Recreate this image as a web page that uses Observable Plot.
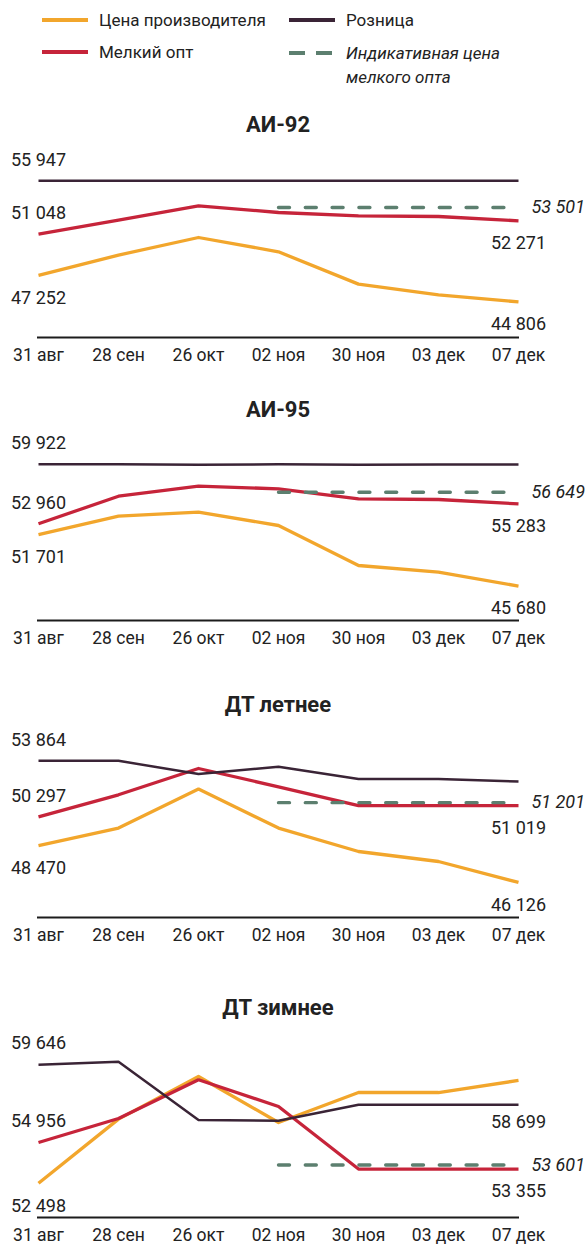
<!DOCTYPE html>
<html>
<head>
<meta charset="utf-8">
<script src="https://cdn.jsdelivr.net/npm/d3@7"></script>
<script src="https://cdn.jsdelivr.net/npm/@observablehq/plot@0.6"></script>
<style>
  body { margin: 0; background: #fff; }
  #chart { position: relative; width: 586px; height: 1245px; font-family: Roboto, "Noto Sans", sans-serif; color: #222; }
  .abs { position: absolute; }
  .legend-text { font-size: 17px; line-height: 24px; white-space: nowrap; }
  .title { font-size: 22px; font-weight: 700; text-align: center; width: 300px; line-height: 26px; }
</style>
</head>
<body>
<div id="chart"></div>
<script>
// Dates along the x axis
const dates = ["31 авг", "28 сен", "26 окт", "02 ноя", "30 ноя", "03 дек", "07 дек"];
// The indicative small-wholesale price applies from this date onwards
const indicativeDates = ["02 ноя", "30 ноя", "03 дек", "07 дек"];

// АИ-92, руб./т
const ai92Producer  = [47252, 49116, 50735, 49420, 46448, 45464, 44806];
const ai92Retail    = [55947, 55947, 55947, 55947, 55947, 55947, 55947];
const ai92Wholesale = [51048, 52336, 53652, 53035, 52732, 52667, 52271];
const ai92Indicative = 53501;

// АИ-95
const ai95Producer  = [51701, 53849, 54317, 52761, 48081, 47297, 45680];
const ai95Retail    = [59922, 59922, 59860, 59922, 59880, 59890, 59900];
const ai95Wholesale = [52960, 56189, 57359, 57055, 55885, 55803, 55283];
const ai95Indicative = 56649;

// ДТ летнее
const dtSummerProducer  = [48470, 49584, 52064, 49584, 48096, 47460, 46126];
const dtSummerRetail    = [53864, 53864, 53018, 53482, 52700, 52700, 52547];
const dtSummerWholesale = [50297, 51702, 53374, 52210, 51019, 51019, 51019];
const dtSummerIndicative = 51201;

// ДТ зимнее
const dtWinterProducer  = [52498, 56367, 58936, 56162, 57971, 57971, 58699];
const dtWinterRetail    = [59646, 59822, 56307, 56265, 57229, 57229, 57229];
const dtWinterWholesale = [54956, 56403, 58737, 57127, 53355, 53355, 53355];
const dtWinterIndicative = 53601;

// Y-axis extents of each panel
const ai92Domain     = [41535, 59935];
const ai95Domain     = [41646, 65046];
const dtSummerDomain = [43898, 56618];
const dtWinterDomain = [50434, 62494];

const titles = ["АИ-92", "АИ-95", "ДТ летнее", "ДТ зимнее"];

const legendLabels = {
  producer: "Цена производителя",
  retail: "Розница",
  wholesale: "Мелкий опт",
  indicative: ["Индикативная цена", "мелкого опта"]
};

const colors = {
  producer: "#F2A62C",
  retail: "#3A2436",
  wholesale: "#C6243A",
  indicative: "#5C7F6F",
  text: "#222222",
  axis: "#1c1c1c"
};

const panels = [
  { title: titles[0], producer: ai92Producer, retail: ai92Retail, wholesale: ai92Wholesale, indicative: ai92Indicative, domain: ai92Domain },
  { title: titles[1], producer: ai95Producer, retail: ai95Retail, wholesale: ai95Wholesale, indicative: ai95Indicative, domain: ai95Domain },
  { title: titles[2], producer: dtSummerProducer, retail: dtSummerRetail, wholesale: dtSummerWholesale, indicative: dtSummerIndicative, domain: dtSummerDomain },
  { title: titles[3], producer: dtWinterProducer, retail: dtWinterRetail, wholesale: dtWinterWholesale, indicative: dtWinterIndicative, domain: dtWinterDomain }
];

// Page layout: y of each panel's baseline and title
const layout = {
  axisY: [336.7, 620, 916.7, 1216.7],
  titleY: [125, 410, 705, 1008],
  above: -21,
  below: 22.5,
  // end-of-line producer label sits below the retail line in the last panel
  producerEndDy: [22.5, 22.5, 22.5, 42]
};

const fmt = d3.formatLocale({ decimal: ",", thousands: " ", grouping: [3], currency: ["", ""] }).format(",d");

const W = 586, H = 235, MT = 5, MB = 30, ML = 37, MR = 67;
const font = 'Roboto, "Noto Sans", sans-serif';
const chart = document.getElementById("chart");

// ---- legend ----
function swatch(color, dashed) {
  const ns = "http://www.w3.org/2000/svg";
  const svg = document.createElementNS(ns, "svg");
  svg.setAttribute("width", 48); svg.setAttribute("height", 8);
  const l = document.createElementNS(ns, "line");
  l.setAttribute("x1", 1); l.setAttribute("x2", 47); l.setAttribute("y1", 4); l.setAttribute("y2", 4);
  l.setAttribute("stroke", color); l.setAttribute("stroke-width", 4);
  if (dashed) l.setAttribute("stroke-dasharray", "16,11");
  svg.appendChild(l);
  return svg;
}
function legendItem(x, y, color, dashed, lines, italic) {
  const sw = swatch(color, dashed);
  sw.classList.add("abs");
  sw.style.left = (x - 1) + "px"; sw.style.top = (y - 4) + "px";
  chart.appendChild(sw);
  const t = document.createElement("div");
  t.className = "abs legend-text";
  t.style.left = (x + 57) + "px"; t.style.top = (y - 12) + "px";
  if (italic) t.style.fontStyle = "italic";
  t.innerHTML = lines.join("<br>");
  chart.appendChild(t);
}
legendItem(42, 20, colors.producer, false, [legendLabels.producer]);
legendItem(289, 20, colors.retail, false, [legendLabels.retail]);
legendItem(42, 52, colors.wholesale, false, [legendLabels.wholesale]);
legendItem(289, 53, colors.indicative, true, legendLabels.indicative, true);

// ---- panels ----
const rows = arr => dates.map((d, i) => ({ date: d, value: arr[i] }));

panels.forEach((p, k) => {
  const title = document.createElement("div");
  title.className = "abs title";
  title.textContent = p.title;
  title.style.left = ((ML + W - MR) / 2 - 150) + "px";
  title.style.top = (layout.titleY[k] - 13) + "px";

  const first = dates[0];
  const last = dates[dates.length - 1];
  // value labels at the line ends, each with its own vertical offset
  const valueLabels = [
    { date: first, value: p.retail[0], dy: layout.above },
    { date: first, value: p.wholesale[0], dy: layout.above },
    { date: first, value: p.producer[0], dy: layout.below },
    { date: last, value: p.wholesale[p.wholesale.length - 1], dy: layout.below },
    { date: last, value: p.producer[p.producer.length - 1], dy: layout.producerEndDy[k] }
  ];

  const plot = Plot.plot({
    width: W, height: H,
    marginTop: MT, marginBottom: MB, marginLeft: ML, marginRight: MR,
    x: { type: "point", domain: dates, padding: 0 },
    y: { domain: p.domain, axis: null },
    style: { fontFamily: font, fontSize: "18px", background: "transparent", overflow: "visible", color: colors.text },
    marks: [
      Plot.ruleY([p.domain[0]], { stroke: colors.axis, strokeWidth: 1.8 }),
      Plot.axisX({ tickSize: 0, tickPadding: 11, label: null, fontSize: 17.5, fill: colors.text }),
      Plot.line(rows(p.producer), { x: "date", y: "value", stroke: colors.producer, strokeWidth: 3.3, strokeLinecap: "butt" }),
      Plot.line(rows(p.wholesale), { x: "date", y: "value", stroke: colors.wholesale, strokeWidth: 3.3, strokeLinecap: "butt" }),
      Plot.line(rows(p.retail), { x: "date", y: "value", stroke: colors.retail, strokeWidth: 2.5, strokeLinecap: "butt" }),
      Plot.line(indicativeDates.map(d => ({ date: d, value: p.indicative })), {
        x: "date", y: "value", stroke: colors.indicative, strokeWidth: 3.4,
        strokeDasharray: "11,15.8", strokeLinecap: "round"
      }),
      ...valueLabels.map(l => Plot.text([l], {
        x: "date", y: "value", dy: l.dy, text: d => fmt(d.value),
        textAnchor: "middle", lineAnchor: "middle", fontSize: 18, fill: colors.text
      })),
      Plot.text([{ date: last, value: p.indicative }], {
        x: "date", y: "value", text: d => fmt(d.value), dx: 13,
        textAnchor: "start", lineAnchor: "middle", fontSize: 18, fontStyle: "italic", fill: colors.text
      })
    ]
  });
  plot.classList.add("abs");
  plot.style.left = "0px";
  plot.style.top = (layout.axisY[k] - (H - MB)) + "px";
  chart.appendChild(plot);
  chart.appendChild(title);
});
</script>
</body>
</html>
